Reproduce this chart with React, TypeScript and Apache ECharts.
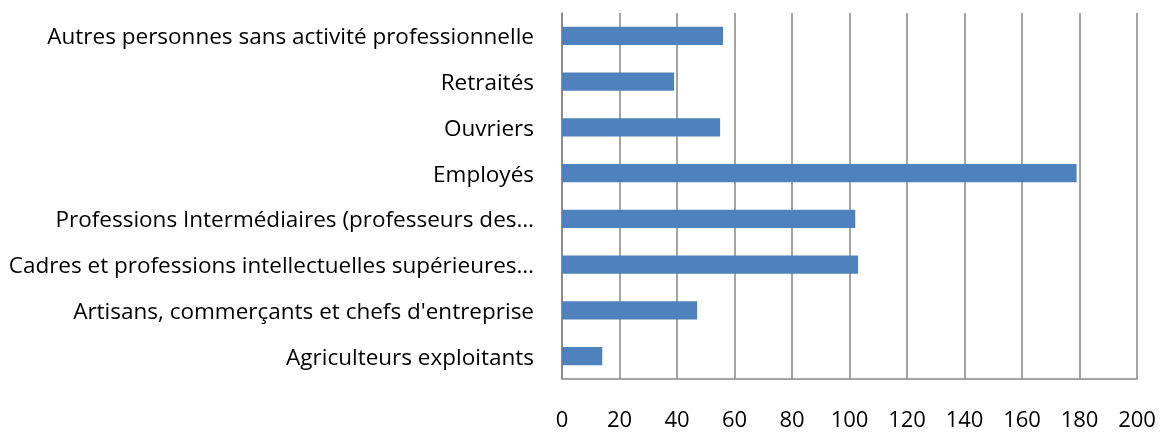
import React, { useEffect, useRef } from "react";
import * as echarts from "echarts";

const categories = [
  "Agriculteurs exploitants",
  "Artisans, commerçants et chefs d'entreprise",
  "Cadres et professions intellectuelles supérieures…",
  "Professions Intermédiaires (professeurs des…",
  "Employés",
  "Ouvriers",
  "Retraités",
  "Autres personnes sans activité professionnelle",
];
const values = [14, 47, 103, 102, 179, 55, 39, 56];
const xMin = 0;
const xMax = 200;
const xInterval = 20;

export default function App() {
  const ref = useRef<HTMLDivElement>(null);
  useEffect(() => {
    if (!ref.current) return;
    const chart = echarts.init(ref.current, undefined, { renderer: "svg" });
    const font = "'Open Sans', 'Noto Sans', sans-serif";
    chart.setOption({
      animation: false,
      textStyle: { fontFamily: font },
      grid: {
        left: 562,
        right: 26,
        top: 13,
        bottom: 53,
        containLabel: false,
        outerBoundsMode: "none",
      },
      xAxis: {
        type: "value",
        min: xMin,
        max: xMax,
        interval: xInterval,
        axisLine: { show: true, lineStyle: { color: "#868686", width: 1.5 } },
        axisTick: { show: false },
        splitLine: { show: true, lineStyle: { color: "#868686", width: 1.5 } },
        axisLabel: { color: "#000", fontSize: 22, fontFamily: font, margin: 28 },
      },
      yAxis: {
        type: "category",
        data: categories,
        axisLine: { show: true, lineStyle: { color: "#868686", width: 1.5 } },
        axisTick: { show: false },
        axisLabel: { color: "#000", fontSize: 22.5, fontFamily: font, margin: 28 },
      },
      series: [
        {
          type: "bar",
          data: values,
          barWidth: "40%",
          itemStyle: { color: "#4F81BD" },
        },
      ],
    });
    return () => chart.dispose();
  }, []);
  return (
    <div
      ref={ref}
      style={{ position: "fixed", left: 0, top: 0, width: 1163, height: 432 }}
    />
  );
}
